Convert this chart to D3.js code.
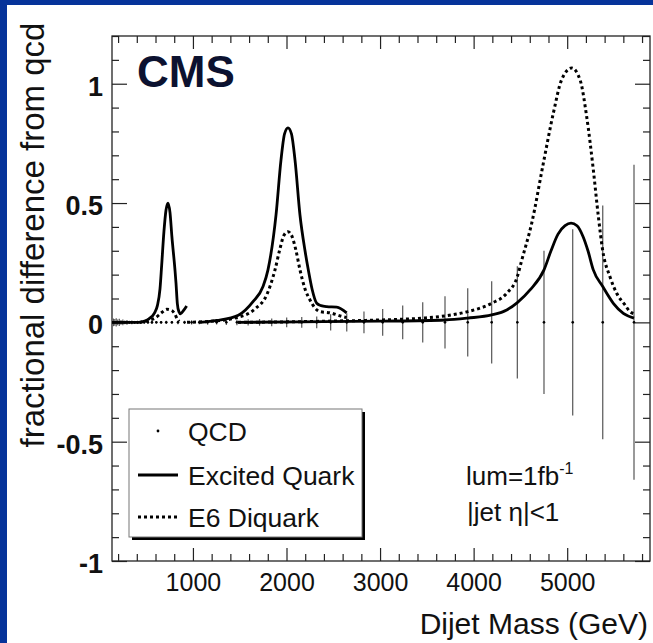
<!DOCTYPE html>
<html>
<head>
<meta charset="utf-8">
<script src="https://cdn.jsdelivr.net/npm/d3@7"></script>
<style>
body { margin:0; background:#fff; }
#chart { width:653px; height:643px; }
text { font-family:'Liberation Sans', Arial, Helvetica, sans-serif; }
</style>
</head>
<body>
<div id="chart"></div>
<script>

// QCD points: dijet mass (GeV) and the error on the fractional difference
const qcdMass = [150,165,180,196,213,231,251,272,295,320,347,376,408,442,479,519,562,609,660,715,
                 775,840,910,986,1068,1157,1253,1357,1470,1590,1712,1842,2002,2163,2323,2472,2644,2828,3028,3242,
                 3456,3694,3937,4193,4467,4752,5059,5380,5714];
const qcdErr = [0.016,0.014,0.017,0.012,0.015,0.010,0.012,0.008,0.010,0.007,0.008,0.006,0.007,0.005,0.006,0.006,0.007,0.005,0.006,0.007,
                0.006,0.008,0.007,0.009,0.008,0.010,0.009,0.011,0.012,0.013,0.014,0.016,0.020,0.023,0.025,0.034,0.038,0.046,0.056,0.071,
                0.084,0.109,0.143,0.172,0.235,0.30,0.39,0.49,0.66];

// excited quark (solid), [mass, fractional difference]
const quark07 = [[135,0],[420,0],[466,0.003],[530,0.015],[590,0.04],[620,0.07],[648,0.14],[666,0.24],[690,0.38],[712,0.47],
                 [734,0.5],[755,0.46],[775,0.36],[808,0.22],[819,0.165],[833,0.08],[850,0.045],[868,0.036],[900,0.05],[933,0.069]];
const quark20 = [[1076,0],[1254,0.008],[1485,0.03],[1642,0.087],[1749,0.15],[1802,0.22],[1888,0.45],[1941,0.68],[1979,0.79],[2016,0.815],
                 [2053,0.79],[2091,0.68],[2144,0.45],[2198,0.3],[2233,0.22],[2273,0.14],[2323,0.08],[2369,0.07],[2430,0.066],[2537,0.064],[2643,0.04]];
const quark50 = [[1482,0],[2144,0.002],[3000,0.005],[3694,0.01],[3937,0.018],[4193,0.031],[4354,0.052],[4467,0.083],[4603,0.136],[4752,0.22],
                 [4827,0.3],[4902,0.37],[4977,0.405],[5041,0.416],[5105,0.405],[5169,0.36],[5222,0.3],[5279,0.22],[5380,0.15],[5493,0.08],[5600,0.038],[5714,0.018]];

// E6 diquark (dotted)
const diquark07 = [[430,0],[541,0.01],[595,0.018],[666,0.041],[720,0.055],[773,0.05],[808,0.034],[833,0.013],[854,0.004]];
const diquark20 = [[937,0],[1343,0.01],[1468,0.02],[1663,0.056],[1788,0.115],[1877,0.22],[1931,0.31],[1973,0.365],[2016,0.38],[2059,0.36],
                   [2102,0.3],[2144,0.22],[2198,0.14],[2251,0.094],[2305,0.06],[2358,0.045],[2465,0.04],[2590,0.025],[2643,0.02]];
const diquark50 = [[1482,0],[2144,0.003],[2572,0.006],[3000,0.01],[3462,0.018],[3694,0.027],[3937,0.045],[4193,0.08],[4354,0.122],[4467,0.192],
                   [4514,0.26],[4621,0.416],[4745,0.667],[4852,0.877],[4941,1.017],[5048,1.066],[5137,1.017],[5208,0.863],[5279,0.64],[5333,0.444],
                   [5380,0.30],[5458,0.19],[5529,0.122],[5618,0.073],[5671,0.045],[5714,0.036]];

const xTicks = [1000,2000,3000,4000,5000];
const yTicks = [-1,-0.5,0,0.5,1];
const yTickLabels = ['-1','-0.5','0','0.5','1'];
const legendNames = ['QCD','Excited Quark','E6 Diquark'];

let dim = {'width':653, 'height':643};
let frame = {left:112, right:650, top:36, bottom:561};

let svg = d3.select('#chart').append('svg')
            .attr('width', dim.width)
            .attr('height', dim.height)
            .style('background', 'white');

// blue slide border (top and left only)
svg.append('rect').attr('x',0).attr('y',0).attr('width',dim.width).attr('height',5).attr('fill','#06339a');
svg.append('rect').attr('x',0).attr('y',0).attr('width',7).attr('height',dim.height).attr('fill','#06339a');

let x = d3.scaleLinear().domain([135, 5885]).range([frame.left, frame.right]);
let y = d3.scaleLinear().domain([-1, 1.2]).range([frame.bottom, frame.top]);

let xMinor = d3.range(200, 5801, 200).filter(v => v % 1000 != 0);
let yMinor = d3.range(-10, 13).map(v => v/10).filter(v => Math.abs(v*2 - Math.round(v*2)) > 0.01);

function styleAxis(g){
    g.select('.domain').remove();
    g.selectAll('line').attr('stroke','#222').attr('stroke-width',1.2);
}

// bottom axis with labels
svg.append('g').attr('transform','translate(0,'+frame.bottom+')')
    .call(d3.axisBottom(x).tickValues(xTicks).tickSize(-13).tickPadding(12).tickFormat(d3.format('d')))
    .call(styleAxis)
    .call(g => g.selectAll('text').attr('font-size',25).attr('fill','#111'));
svg.append('g').attr('transform','translate(0,'+frame.bottom+')')
    .call(d3.axisBottom(x).tickValues(xMinor).tickSize(-7).tickFormat(''))
    .call(styleAxis);
// top axis, ticks only
svg.append('g').attr('transform','translate(0,'+frame.top+')')
    .call(d3.axisTop(x).tickValues(xTicks).tickSize(-13).tickFormat(''))
    .call(styleAxis);
svg.append('g').attr('transform','translate(0,'+frame.top+')')
    .call(d3.axisTop(x).tickValues(xMinor).tickSize(-7).tickFormat(''))
    .call(styleAxis);

// left axis with bold labels
svg.append('g').attr('transform','translate('+frame.left+',0)')
    .call(d3.axisLeft(y).tickValues(yTicks).tickSize(-15).tickPadding(9).tickFormat((d,i) => yTickLabels[i]))
    .call(styleAxis)
    .call(g => g.selectAll('text').attr('font-size',27).attr('font-weight','bold').attr('fill','#111').attr('dy','0.42em'));
svg.append('g').attr('transform','translate('+frame.left+',0)')
    .call(d3.axisLeft(y).tickValues(yMinor).tickSize(-7).tickFormat(''))
    .call(styleAxis);
svg.append('g').attr('transform','translate('+frame.right+',0)')
    .call(d3.axisRight(y).tickValues(yTicks).tickSize(-15).tickFormat(''))
    .call(styleAxis);
svg.append('g').attr('transform','translate('+frame.right+',0)')
    .call(d3.axisRight(y).tickValues(yMinor).tickSize(-7).tickFormat(''))
    .call(styleAxis);

svg.append('rect')
    .attr('x', frame.left).attr('y', frame.top)
    .attr('width', frame.right-frame.left).attr('height', frame.bottom-frame.top)
    .attr('fill','none').attr('stroke','#222').attr('stroke-width',1.3);

// QCD error bars and points
let qcd = qcdMass.map((m,i) => ({m:m, e:qcdErr[i]}));
svg.append('g').selectAll('line')
    .data(qcd)
    .join('line')
    .attr('x1', d => x(d.m)).attr('x2', d => x(d.m))
    .attr('y1', d => y(d.e)).attr('y2', d => y(-d.e))
    .attr('stroke','#555').attr('stroke-width',1.2);

let line = d3.line()
    .x(d => x(d[0]))
    .y(d => y(d[1]))
    .curve(d3.curveMonotoneX);

[quark07, quark20, quark50].forEach(function(c){
    svg.append('path').attr('d', line(c))
        .attr('fill','none').attr('stroke','#000').attr('stroke-width',2.8);
});
[diquark07, diquark20, diquark50].forEach(function(c){
    svg.append('path').attr('d', line(c))
        .attr('fill','none').attr('stroke','#000').attr('stroke-width',3)
        .attr('stroke-dasharray','3,3');
});

svg.append('g').selectAll('circle')
    .data(qcd)
    .join('circle')
    .attr('cx', d => x(d.m)).attr('cy', y(0))
    .attr('r', 1.3).attr('fill','#000');

// CMS label
svg.append('text').attr('x',137).attr('y',87)
    .attr('font-size',44).attr('font-weight','bold').attr('fill','#0c1230')
    .text('CMS');

// legend
svg.append('rect').attr('x',132).attr('y',412).attr('width',233).attr('height',128).attr('fill','#000');
svg.append('rect').attr('x',129).attr('y',409).attr('width',233).attr('height',128)
    .attr('fill','#fff').attr('stroke','#777').attr('stroke-width',1);

let legY = [441, 485, 527];
svg.append('circle').attr('cx',158).attr('cy',431).attr('r',1.4).attr('fill','#000');
svg.append('line').attr('x1',138).attr('x2',178).attr('y1',475).attr('y2',475)
    .attr('stroke','#000').attr('stroke-width',2.8);
svg.append('line').attr('x1',138).attr('x2',177).attr('y1',517).attr('y2',517)
    .attr('stroke','#000').attr('stroke-width',3).attr('stroke-dasharray','3,3');
svg.append('g').selectAll('text')
    .data(legendNames)
    .join('text')
    .attr('x',188).attr('y',(d,i) => legY[i])
    .attr('font-size',26.5).attr('fill','#111')
    .text(d => d);

// luminosity / eta cut
let lum = svg.append('text').attr('x',466).attr('y',485).attr('font-size',26).attr('fill','#111');
lum.append('tspan').text('lum=1fb');
lum.append('tspan').attr('font-size',16).attr('dy',-11).text('-1');
svg.append('text').attr('x',467).attr('y',521).attr('font-size',26).attr('fill','#111')
    .text('|jet \u03b7|<1');

// axis titles
svg.append('text')
    .attr('transform','translate(44,235) rotate(-90)')
    .attr('text-anchor','middle')
    .attr('font-size',33).attr('fill','#111')
    .text('fractional difference from qcd');
svg.append('text').attr('x',648).attr('y',634)
    .attr('text-anchor','end')
    .attr('font-size',30).attr('fill','#111')
    .text('Dijet Mass (GeV)');

</script>
</body>
</html>
